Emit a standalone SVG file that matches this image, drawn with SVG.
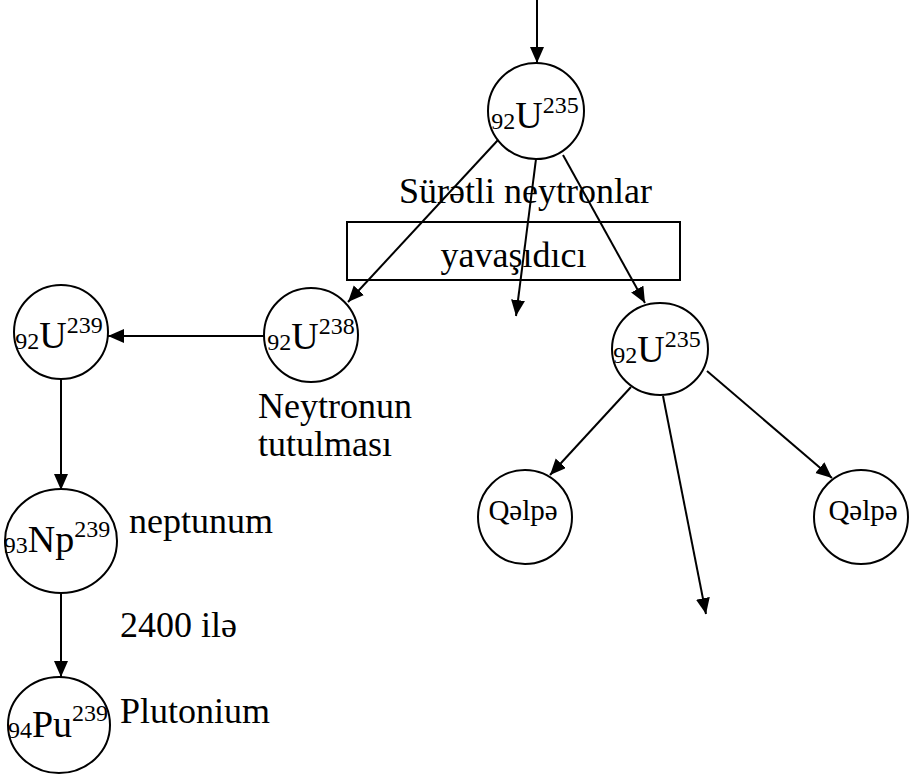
<svg xmlns="http://www.w3.org/2000/svg" width="918" height="776" viewBox="0 0 918 776" font-family="'Liberation Serif', 'DejaVu Serif', serif">
  <style>
    .node { fill: #fff; stroke: #000; stroke-width: 2; }
    .edge { stroke: #000; stroke-width: 2; fill: none; marker-end: url(#arrow); }
    .plain { stroke: #000; stroke-width: 2; fill: none; }
    text { font-family: 'Liberation Serif', 'DejaVu Serif', serif; fill: #000; }
    .lbl { font-size: 36px; }
    .iso { font-size: 38px; text-anchor: middle; }
    .small { font-size: 24px; }
    .frag { font-size: 29px; text-anchor: middle; }
  </style>
  <defs>
    <marker id="arrow" markerUnits="userSpaceOnUse" markerWidth="17" markerHeight="15" refX="16" refY="7" orient="auto">
      <path d="M0,0 L16,7 L0,14 z" fill="#000"/>
    </marker>
  </defs>
  <rect width="918" height="776" fill="#fff"/>

  <!-- moderator box -->
  <g id="moderator">
    <rect class="plain" x="347" y="222" width="333" height="58"/>
    <text class="lbl" x="513.5" y="267" text-anchor="middle" font-family="Liberation Serif, serif">yavaşıdıcı</text>
  </g>

  <!-- connectors -->
  <g id="connectors">
    <line class="edge" x1="537" y1="0" x2="537" y2="63"/>
    <line class="edge" x1="498" y1="140" x2="348" y2="302"/>
    <line class="edge" x1="536" y1="159" x2="516" y2="316"/>
    <line class="edge" x1="563" y1="155" x2="645" y2="303"/>
    <line class="edge" x1="264" y1="336" x2="108" y2="336"/>
    <line class="edge" x1="61" y1="380" x2="61" y2="490"/>
    <line class="edge" x1="61" y1="593" x2="61" y2="677"/>
    <line class="edge" x1="631" y1="387" x2="550" y2="475"/>
    <line class="edge" x1="663" y1="396" x2="706" y2="614"/>
    <line class="edge" x1="707" y1="371" x2="832" y2="478"/>
  </g>

  <g id="u235-top">
    <circle class="node" cx="536" cy="111" r="48"/>
    <text class="iso" x="535" y="128" font-family="Liberation Serif, serif"><tspan class="small" dy="1">92</tspan><tspan dy="-1">U</tspan><tspan class="small" dy="-15">235</tspan></text>
  </g>

  <g id="u238">
    <circle class="node" cx="311" cy="335" r="47"/>
    <text class="iso" x="311" y="349" font-family="Liberation Serif, serif"><tspan class="small" dy="1">92</tspan><tspan dy="-1">U</tspan><tspan class="small" dy="-15">238</tspan></text>
  </g>

  <g id="u239">
    <circle class="node" cx="61" cy="332" r="47"/>
    <text class="iso" x="59" y="348" font-family="Liberation Serif, serif"><tspan class="small" dy="1">92</tspan><tspan dy="-1">U</tspan><tspan class="small" dy="-15">239</tspan></text>
  </g>

  <g id="u235-low">
    <ellipse class="node" cx="660" cy="349" rx="48" ry="46"/>
    <text class="iso" x="657" y="362" font-family="Liberation Serif, serif"><tspan class="small" dy="1">92</tspan><tspan dy="-1">U</tspan><tspan class="small" dy="-15">235</tspan></text>
  </g>

  <g id="np239">
    <ellipse class="node" cx="61" cy="541" rx="56" ry="52"/>
    <text class="iso" x="57" y="552" font-family="Liberation Serif, serif"><tspan class="small" dy="1">93</tspan><tspan dy="-1">Np</tspan><tspan class="small" dy="-15">239</tspan></text>
  </g>

  <g id="pu239">
    <ellipse class="node" cx="59" cy="725" rx="51" ry="48"/>
    <text class="iso" x="58" y="737" font-family="Liberation Serif, serif"><tspan class="small" dy="1">94</tspan><tspan dy="-1">Pu</tspan><tspan class="small" dy="-16">239</tspan></text>
  </g>

  <g id="fragment-left">
    <circle class="node" cx="525" cy="517" r="47"/>
    <text class="frag" x="523" y="520" font-family="Liberation Serif, serif">Qəlpə</text>
  </g>

  <g id="fragment-right">
    <circle class="node" cx="861" cy="517" r="47"/>
    <text class="frag" x="863" y="520" font-family="Liberation Serif, serif">Qəlpə</text>
  </g>

  <!-- free labels -->
  <g id="labels" font-family="Liberation Serif, serif">
    <text class="lbl" x="399" y="203">Sürətli neytronlar</text>
    <text class="lbl" x="258" y="418">Neytronun</text>
    <text class="lbl" x="258" y="456">tutulması</text>
    <text class="lbl" x="129" y="533">neptunum</text>
    <text class="lbl" x="120" y="637">2400 ilə</text>
    <text class="lbl" x="120" y="723">Plutonium</text>
  </g>
</svg>
